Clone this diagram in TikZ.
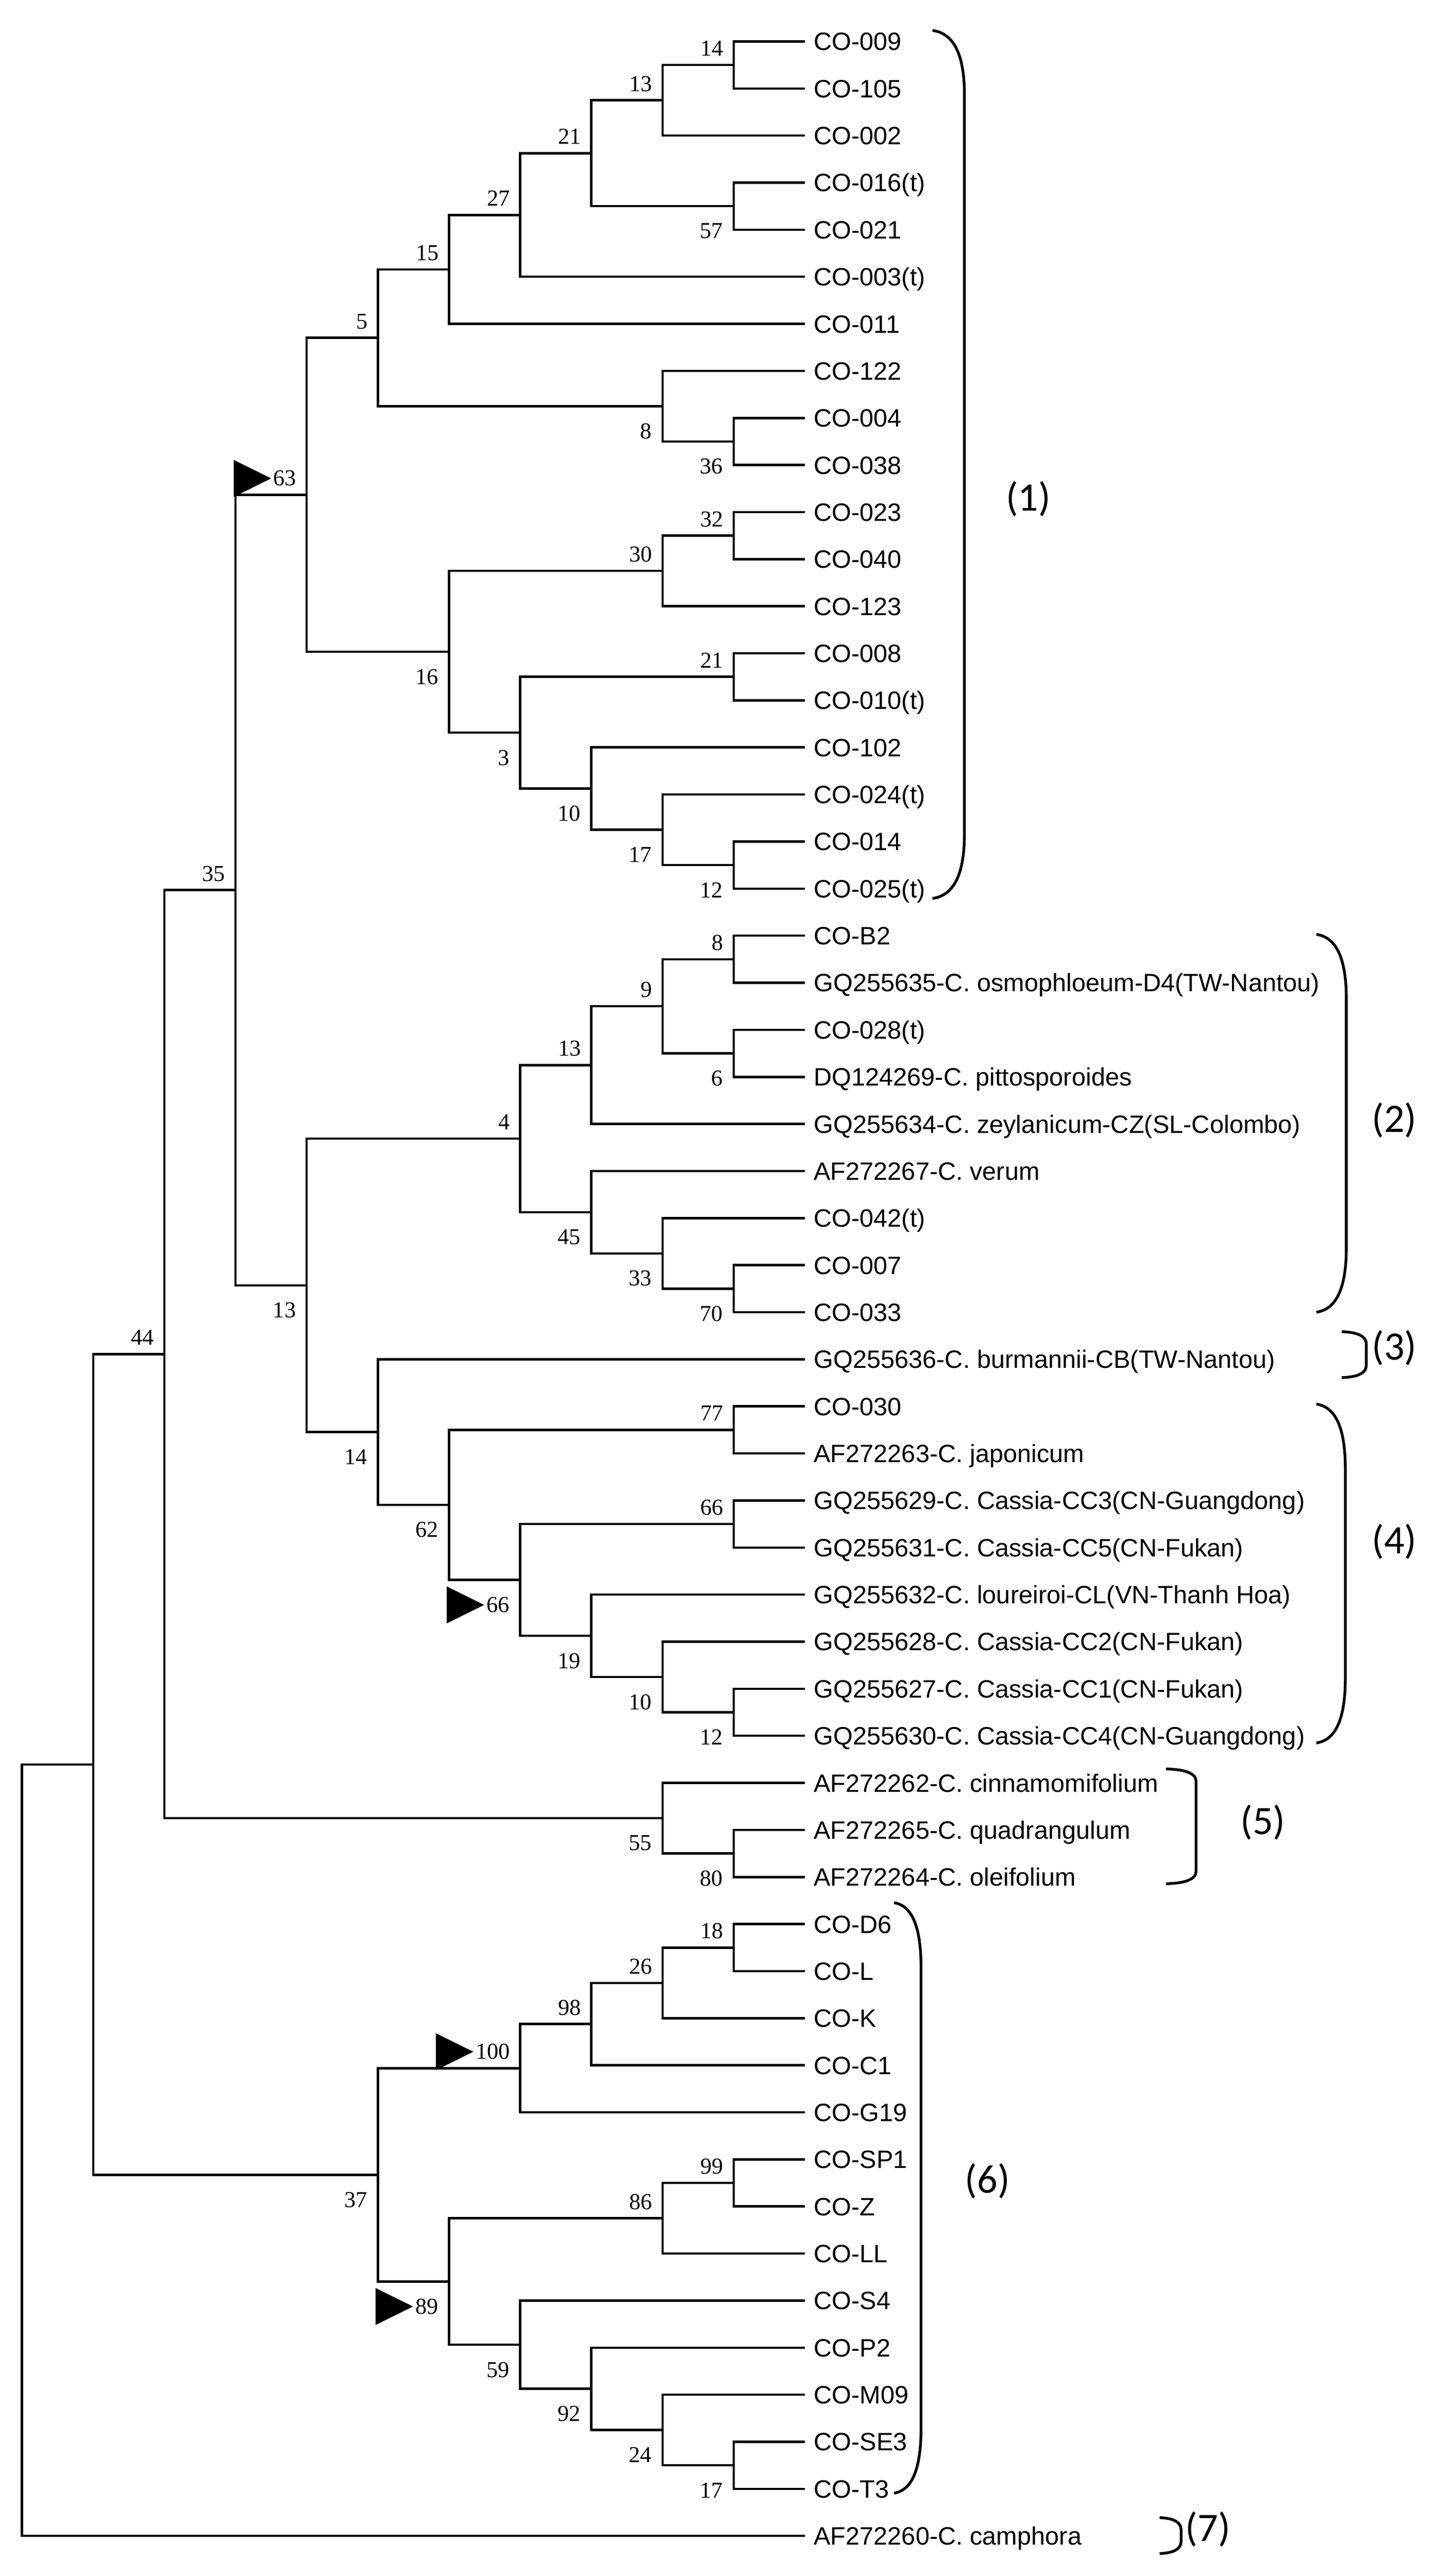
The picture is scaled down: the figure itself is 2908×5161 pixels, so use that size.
\documentclass[tikz,border=0pt]{standalone}
\usepackage{fontspec}
\setmainfont{Liberation Sans}
\newfontfamily\bootfont{Liberation Serif}
\newfontfamily\groupfont{Carlito}

\begin{document}
\begin{tikzpicture}[x=0.01cm, y=-0.01cm,
    branch/.style={line width=0.47mm},
    leaf/.style={anchor=base west, inner sep=0pt, font=\fontsize{14.3}{17}\selectfont},
    bsup/.style={anchor=base east, inner sep=0pt, xshift=-0.2cm, yshift=0.18cm, font=\bootfont\fontsize{13}{15}\selectfont},
    bsdown/.style={anchor=north east, inner sep=0pt, xshift=-0.21cm, yshift=-0.34cm, font=\bootfont\fontsize{13}{15}\selectfont},
    grp/.style={inner sep=0pt, font=\groupfont\fontsize{23}{27}\selectfont},
    bracket/.style={line width=0.55mm}]

    \useasboundingbox (0,0) rectangle (2908,5161);

    \begin{scope}[shift={(0.44cm,0.1124cm)}, x=1.425cm, y=-0.9424cm]
        % leaves
        \foreach \name [count=\i] in {{CO-009}, {CO-105}, {CO-002}, {CO-016(t)}, {CO-021}, {CO-003(t)}, {CO-011},
            {CO-122}, {CO-004}, {CO-038}, {CO-023}, {CO-040}, {CO-123}, {CO-008}, {CO-010(t)}, {CO-102},
            {CO-024(t)}, {CO-014}, {CO-025(t)}, {CO-B2}, {GQ255635-C. osmophloeum-D4(TW-Nantou)}, {CO-028(t)},
            {DQ124269-C. pittosporoides}, {GQ255634-C. zeylanicum-CZ(SL-Colombo)}, {AF272267-C. verum},
            {CO-042(t)}, {CO-007}, {CO-033}, {GQ255636-C. burmannii-CB(TW-Nantou)}, {CO-030},
            {AF272263-C. japonicum}, {GQ255629-C. Cassia-CC3(CN-Guangdong)}, {GQ255631-C. Cassia-CC5(CN-Fukan)},
            {GQ255632-C. loureiroi-CL(VN-Thanh Hoa)}, {GQ255628-C. Cassia-CC2(CN-Fukan)},
            {GQ255627-C. Cassia-CC1(CN-Fukan)}, {GQ255630-C. Cassia-CC4(CN-Guangdong)},
            {AF272262-C. cinnamomifolium}, {AF272265-C. quadrangulum}, {AF272264-C. oleifolium},
            {CO-D6}, {CO-L}, {CO-K}, {CO-C1}, {CO-G19}, {CO-SP1}, {CO-Z}, {CO-LL}, {CO-S4}, {CO-P2},
            {CO-M09}, {CO-SE3}, {CO-T3}, {AF272260-C. camphora}} {
            \coordinate (l\i) at (11,\i);
            \node[leaf] (t\i) at ([xshift=0.17cm, yshift=-0.18cm]l\i) {\name};
        }

        % internal nodes (level, row)
        \coordinate (nA) at (10,1.5);
        \coordinate (nB) at (9,2.25);
        \coordinate (nC) at (10,4.5);
        \coordinate (nD) at (8,3.375);
        \coordinate (nE) at (7,4.6875);
        \coordinate (nF) at (6,5.84375);
        \coordinate (nG) at (10,9.5);
        \coordinate (nH) at (9,8.75);
        \coordinate (nI) at (5,7.296875);
        \coordinate (nJ) at (10,11.5);
        \coordinate (nK) at (9,12.25);
        \coordinate (nL) at (10,14.5);
        \coordinate (nM) at (10,18.5);
        \coordinate (nN) at (9,17.75);
        \coordinate (nO) at (8,16.875);
        \coordinate (nP) at (7,15.6875);
        \coordinate (nQ) at (6,13.96875);
        \coordinate (nR) at (4,10.6328125);
        \coordinate (nS) at (10,20.5);
        \coordinate (nT) at (10,22.5);
        \coordinate (nU) at (9,21.5);
        \coordinate (nV) at (8,22.75);
        \coordinate (nW) at (10,27.5);
        \coordinate (nX) at (9,26.75);
        \coordinate (nY) at (8,25.875);
        \coordinate (nZ) at (7,24.3125);
        \coordinate (na) at (10,30.5);
        \coordinate (nb) at (10,32.5);
        \coordinate (nc) at (10,36.5);
        \coordinate (nd) at (9,35.75);
        \coordinate (ne) at (8,34.875);
        \coordinate (nf) at (7,33.6875);
        \coordinate (ng) at (6,32.09375);
        \coordinate (nh) at (5,30.546875);
        \coordinate (ni) at (4,27.4296875);
        \coordinate (nj) at (3,19.03125);
        \coordinate (nk80) at (10,39.5);
        \coordinate (nk55) at (9,38.75);
        \coordinate (nq18) at (10,41.5);
        \coordinate (nq26) at (9,42.25);
        \coordinate (nq98) at (8,43.125);
        \coordinate (nq100) at (7,44.0625);
        \coordinate (nq99) at (10,46.5);
        \coordinate (nq86) at (9,47.25);
        \coordinate (nq17) at (10,52.5);
        \coordinate (nq24) at (9,51.75);
        \coordinate (nq92) at (8,50.875);
        \coordinate (nq59) at (7,49.9375);
        \coordinate (nq89) at (6,48.59375);
        \coordinate (nq37) at (5,46.328125);
        \coordinate (n44) at (2,28.890625);
        \coordinate (n1) at (1,37.609375);
        \coordinate (root) at (0,45.8046875);

        % branches
        \foreach \p/\c in {nA/l1, nA/l2, nB/nA, nB/l3, nC/l4, nC/l5, nD/nB, nD/nC, nE/nD, nE/l6,
            nF/nE, nF/l7, nG/l9, nG/l10, nH/l8, nH/nG, nI/nF, nI/nH, nJ/l11, nJ/l12, nK/nJ, nK/l13,
            nL/l14, nL/l15, nM/l18, nM/l19, nN/l17, nN/nM, nO/l16, nO/nN, nP/nL, nP/nO, nQ/nK, nQ/nP,
            nR/nI, nR/nQ, nS/l20, nS/l21, nT/l22, nT/l23, nU/nS, nU/nT, nV/nU, nV/l24, nW/l27, nW/l28,
            nX/l26, nX/nW, nY/l25, nY/nX, nZ/nV, nZ/nY, na/l30, na/l31, nb/l32, nb/l33, nc/l36, nc/l37,
            nd/l35, nd/nc, ne/l34, ne/nd, nf/nb, nf/ne, ng/na, ng/nf, nh/l29, nh/ng, ni/nZ, ni/nh,
            nj/nR, nj/ni, nk80/l39, nk80/l40, nk55/l38, nk55/nk80, n44/nj, n44/nk55,
            nq18/l41, nq18/l42, nq26/nq18, nq26/l43, nq98/nq26, nq98/l44, nq100/nq98, nq100/l45,
            nq99/l46, nq99/l47, nq86/nq99, nq86/l48, nq17/l52, nq17/l53, nq24/l51, nq24/nq17,
            nq92/l50, nq92/nq24, nq59/l49, nq59/nq92, nq89/nq86, nq89/nq59, nq37/nq100, nq37/nq89,
            n1/n44, n1/nq37, root/n1, root/l54}
            \draw[branch] (\p) |- (\c);

        % bootstrap values
        \foreach \n/\v in {A/14, B/13, D/21, E/27, F/15, I/5, J/32, K/30, L/21, R/63, S/8, U/9, V/13,
            Z/4, a/77, b/66, j/35, 44/44, q18/18, q26/26, q98/98, q100/100, q99/99, q86/86}
            \node[bsup] (b\n) at (n\n) {\v};
        \foreach \n/\v in {C/57, G/36, H/8, M/12, N/17, O/10, P/3, Q/16, T/6, W/70, X/33, Y/45,
            c/12, d/10, e/19, f/66, g/62, h/14, i/13, k55/55, k80/80, q17/17, q24/24, q92/92,
            q59/59, q89/89, q37/37}
            \node[bsdown] (b\n) at (n\n) {\v};

        % markers
        \foreach \n in {R, f, q100, q89}
            \fill ([xshift=-0.04cm]b\n.west) -- ++(-0.75cm,0.37cm) -- ++(0,-0.74cm) -- cycle;
    \end{scope}

    % group brackets
    \foreach \xa/\xb/\ya/\yb/\r in {1868/1932/61/1800/130, 2637/2697/1872/2629/130, 2688/2737/2668/2760/25,
        2637/2695/2813/3492/130, 2336/2396/3544/3774/25, 1791/1845/3812/4995/130, 2323/2366/5044/5116/25}
        \draw[bracket] (\xa,\ya) .. controls ({\xa+0.75*(\xb-\xa)},{\ya+0.05*\r}) and (\xb,{\ya+0.45*\r}) .. (\xb,{\ya+\r})
            -- (\xb,{\yb-\r}) .. controls (\xb,{\yb-0.45*\r}) and ({\xa+0.75*(\xb-\xa)},{\yb-0.05*\r}) .. (\xa,\yb);

    \node[grp] (g1) at (2060,999) {(1)};
    \node[grp] (g2) at (2793,2244) {(2)};
    \node[grp] (g3) at (2793,2701) {(3)};
    \node[grp] (g4) at (2793,3089) {(4)};
    \node[grp] (g5) at (2530,3651) {(5)};
    \node[grp] (g6) at (1978,4370) {(6)};
    \node[grp] (g7) at (2420,5067) {(7)};
\end{tikzpicture}
\end{document}
